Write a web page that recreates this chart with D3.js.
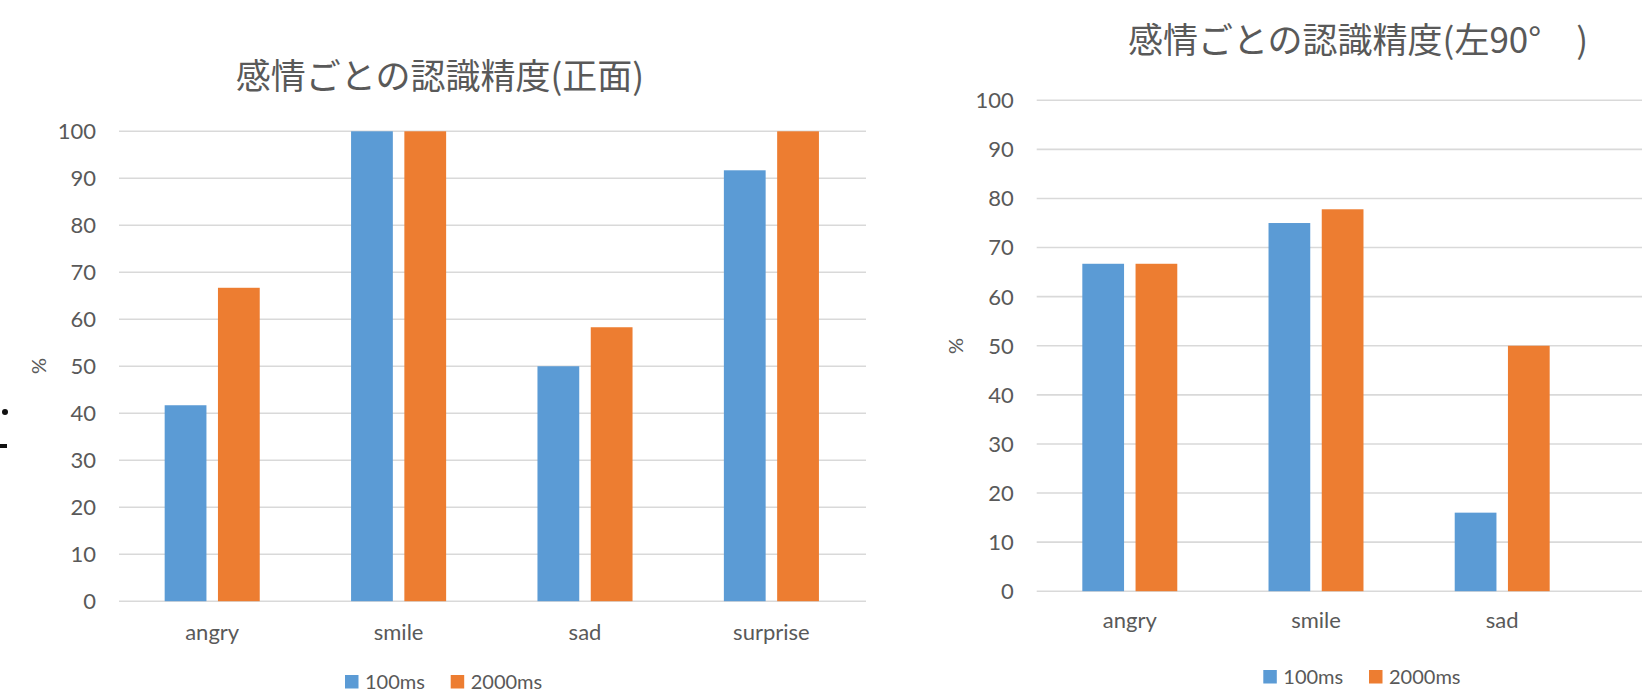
<!DOCTYPE html>
<html>
<head>
<meta charset="utf-8">
<script src="https://cdn.jsdelivr.net/npm/d3@7"></script>
<style>
  html, body { margin: 0; padding: 0; background: #ffffff; overflow: hidden; }
  svg { display: block; }
</style>
</head>
<body>
<svg id="chart" width="1642" height="691"></svg>
<script>
// Recognition accuracy per emotion, two viewing angles, two exposure times
const categories = ["angry", "smile", "sad", "surprise"];
const seriesNames = ["100ms", "2000ms"];
const yTicks = [0, 10, 20, 30, 40, 50, 60, 70, 80, 90, 100];

const frontTitle = "感情ごとの認識精度(正面)";
const front100 = [41.7, 100, 50, 91.7];
const front2000 = [66.7, 100, 58.3, 100];

const sideTitle = "感情ごとの認識精度(左90°　)";
const side100 = [66.7, 75, 16];
const side2000 = [66.7, 77.8, 50];

const colors = ["#5b9bd5", "#ed7d31"];
const textColor = "#595959";
const gridColor = "#d9d9d9";
const latin = "Lato, 'Open Sans', sans-serif";
const cjk = "'Noto Sans CJK JP', 'Noto Sans', sans-serif";

const svg = d3.select("#chart");

function drawPanel(cfg) {
  const g = svg.append("g");
  const x0 = d3.scaleBand().domain(categories)
    .range([cfg.left, cfg.right]).paddingInner(0.49).paddingOuter(0.245);
  const x1 = d3.scaleBand().domain(seriesNames)
    .range([0, x0.bandwidth()]).paddingInner(0.216).paddingOuter(0);
  const y = d3.scaleLinear().domain([0, 100]).range([cfg.bottom, cfg.top]);

  // horizontal gridlines
  g.append("g").selectAll("line").data(yTicks).join("line")
    .attr("x1", cfg.left).attr("x2", cfg.gridEnd)
    .attr("y1", d => y(d)).attr("y2", d => y(d))
    .attr("stroke", gridColor).attr("stroke-width", 1.6);

  // y tick labels
  g.append("g").selectAll("text").data(yTicks).join("text")
    .attr("x", cfg.left - 23).attr("y", d => y(d))
    .attr("dy", "0.36em").attr("text-anchor", "end")
    .attr("font-family", latin).attr("font-size", 22).attr("fill", textColor)
    .text(d => d);

  // bars
  const rows = [];
  cfg.values.forEach((vals, si) => {
    vals.forEach((v, ci) => rows.push({ cat: categories[ci], s: seriesNames[si], si, v }));
  });
  g.append("g").selectAll("rect").data(rows).join("rect")
    .attr("x", d => x0(d.cat) + x1(d.s))
    .attr("width", x1.bandwidth())
    .attr("y", d => y(d.v))
    .attr("height", d => y(0) - y(d.v))
    .attr("fill", d => colors[d.si]);

  // category labels (only for categories that carry values)
  const shown = categories.filter((c, i) => cfg.values.some(v => v[i] !== undefined));
  g.append("g").selectAll("text").data(shown).join("text")
    .attr("x", d => x0(d) + x0.bandwidth() / 2)
    .attr("y", cfg.bottom + cfg.catOffset)
    .attr("text-anchor", "middle")
    .attr("font-family", latin).attr("font-size", 22).attr("fill", textColor)
    .text(d => d);

  // axis title
  g.append("text")
    .attr("transform", `translate(${cfg.pctX},${cfg.pctY}) rotate(-90)`)
    .attr("text-anchor", "middle").attr("dy", "0.35em")
    .attr("font-family", latin).attr("font-size", 20).attr("fill", textColor)
    .text("%");

  // chart title
  g.append("text")
    .attr("x", cfg.titleX).attr("y", cfg.titleY)
    .attr("text-anchor", "middle")
    .attr("font-family", cjk).attr("font-size", 35).attr("fill", textColor)
    .text(cfg.title);

  // legend
  const lg = g.append("g").attr("transform", `translate(${cfg.legendX},${cfg.legendY})`);
  seriesNames.forEach((name, i) => {
    const item = lg.append("g").attr("transform", `translate(${i * 105.7},0)`);
    item.append("rect").attr("x", 0).attr("y", 0).attr("width", 13.5).attr("height", 13.5)
      .attr("fill", colors[i]);
    item.append("text").attr("x", 20).attr("y", 13.5)
      .attr("font-family", latin).attr("font-size", 20).attr("fill", textColor)
      .text(name);
  });
}

drawPanel({
  title: frontTitle, values: [front100, front2000],
  left: 119, right: 864.6, gridEnd: 866, top: 131.3, bottom: 601.2,
  catOffset: 39, pctX: 39, pctY: 366,
  titleX: 440, titleY: 89, legendX: 345, legendY: 675
});

drawPanel({
  title: sideTitle, values: [side100, side2000],
  left: 1036.7, right: 1781.5, gridEnd: 1642, top: 100.3, bottom: 591.2,
  catOffset: 37, pctX: 956, pctY: 346,
  titleX: 1358, titleY: 53, legendX: 1263.3, legendY: 670
});

// stray marks at the far left edge
svg.append("circle").attr("cx", 5).attr("cy", 412).attr("r", 3).attr("fill", "#111");
svg.append("rect").attr("x", 0).attr("y", 444).attr("width", 7).attr("height", 4).attr("fill", "#111");
</script>
</body>
</html>
